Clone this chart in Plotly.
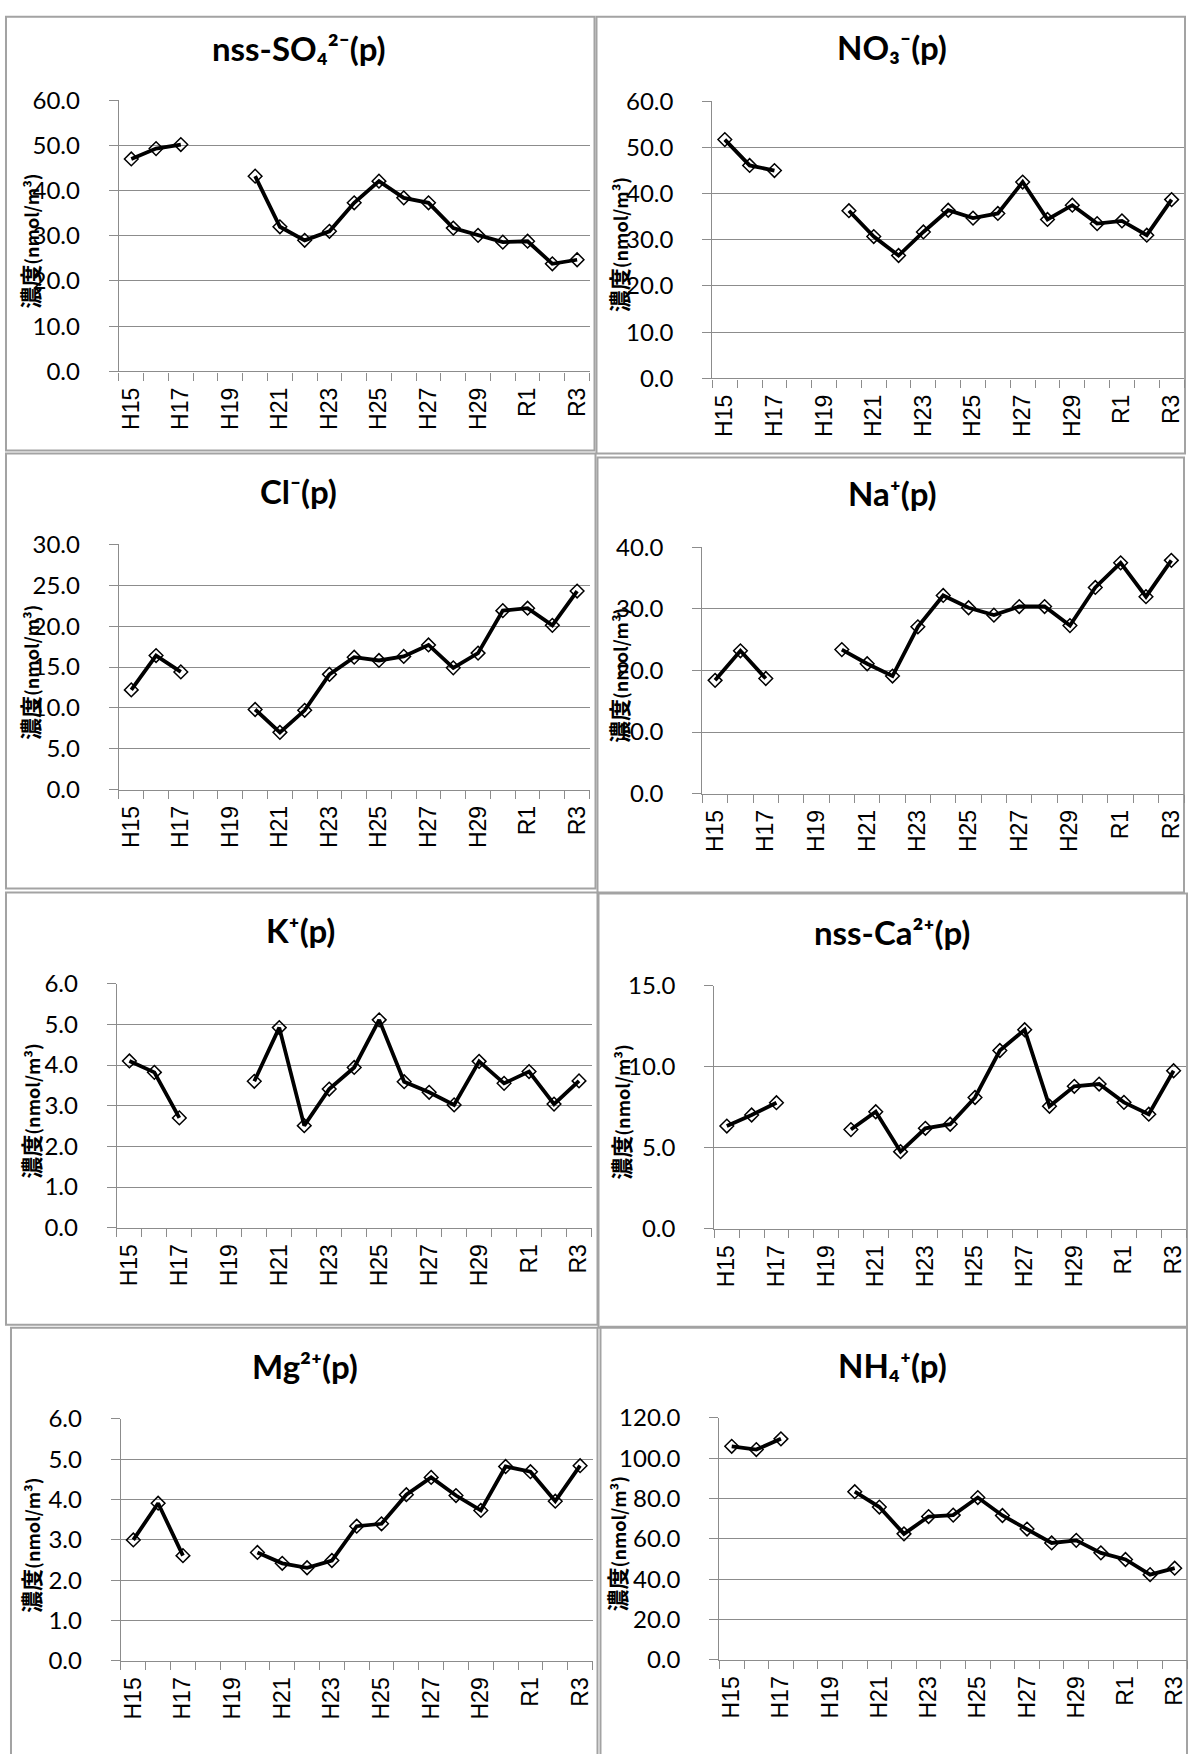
import plotly.graph_objects as go

# ---------------- data ----------------
categories = ["H15", "H16", "H17", "H18", "H19", "H20", "H21", "H22", "H23", "H24",
              "H25", "H26", "H27", "H28", "H29", "H30", "R1", "R2", "R3"]
labelled = ["H15", "H17", "H19", "H21", "H23", "H25", "H27", "H29", "R1", "R3"]

nss_so4 = [47.0, 49.3, 50.2, None, None, 43.2, 32.0, 29.0, 31.0, 37.3, 42.1, 38.4,
           37.3, 31.7, 30.1, 28.6, 28.8, 23.8, 24.7]
no3 = [51.7, 46.1, 45.0, None, None, 36.3, 30.7, 26.6, 31.7, 36.4, 34.7, 35.7,
       42.5, 34.4, 37.5, 33.5, 34.1, 31.0, 38.7]
cl = [12.2, 16.4, 14.4, None, None, 9.8, 7.0, 9.7, 14.1, 16.2, 15.8, 16.3,
      17.7, 14.9, 16.7, 21.9, 22.2, 20.1, 24.3]
na = [18.4, 23.2, 18.7, None, None, 23.4, 21.1, 19.1, 27.1, 32.2, 30.2, 29.0,
      30.4, 30.4, 27.3, 33.5, 37.5, 32.0, 37.9]
k = [4.10, 3.82, 2.70, None, None, 3.60, 4.92, 2.51, 3.41, 3.94, 5.11, 3.59,
     3.33, 3.02, 4.09, 3.55, 3.84, 3.04, 3.61]
nss_ca = [6.34, 7.02, 7.78, None, None, 6.12, 7.22, 4.76, 6.20, 6.45, 8.10, 11.00,
          12.28, 7.56, 8.79, 8.93, 7.80, 7.07, 9.75]
mg = [3.00, 3.91, 2.61, None, None, 2.69, 2.42, 2.31, 2.49, 3.34, 3.40, 4.12,
      4.55, 4.10, 3.73, 4.82, 4.69, 3.96, 4.84]
nh4 = [105.9, 104.3, 109.6, None, None, 83.4, 75.8, 62.5, 71.1, 71.8, 80.5, 71.6,
       64.9, 58.0, 59.3, 53.1, 49.8, 42.3, 45.5]

titles = ["nss-SO₄²⁻(p)", "NO₃⁻(p)", "Cl⁻(p)", "Na⁺(p)",
          "K⁺(p)", "nss-Ca²⁺(p)", "Mg²⁺(p)", "NH₄⁺(p)"]
series = [nss_so4, no3, cl, na, k, nss_ca, mg, nh4]
y_max = [60, 60, 30, 40, 6, 15, 6, 120]
y_step = [10, 10, 5, 10, 1, 5, 1, 20]
y_title = "<b>濃度<span style='font-size:18px'>(nmol/m³)</span></b>"

# category positions on the x scale (index of each category)
x_index = list(range(len(categories)))
label_index = [categories.index(c) for c in labelled]

# ---------------- layout geometry (pixels) ----------------
W, H = 1192, 1754
# plot areas: x0, x1, ytop, ybottom
plot_boxes = [
    (118, 589, 100, 371), (712, 1184, 101, 378),
    (118, 589, 544, 789), (702, 1184, 547, 793),
    (116, 591, 983, 1227), (714, 1186, 985, 1228),
    (120, 592, 1418, 1660), (719, 1187, 1417, 1659),
]
# panel borders: x0, y0, x1, y1
panel_boxes = [
    (5, 9, 594, 450), (596, 8, 1185, 453),
    (5, 453, 595, 888), (597, 457, 1184, 892),
    (5, 892, 597, 1324), (598, 893, 1187, 1327),
    (10, 1327, 597, 1790), (600, 1326, 1187, 1790),
]
title_pos = [(298, 48), (892, 47), (298, 491), (892, 493),
             (300, 929), (892, 931), (304, 1365), (892, 1364)]
ytitle_x = [28, 617, 28, 617, 29, 620, 29, 615]

GRID = "#8c8c8c"
# vertical correction for the page capture (observed offset/scale)
V_OFF, V_SC = 15.8, 0.983


def px(x):
    return x / W


def py(y):
    return min(1.0, 1 - ((y - V_OFF) / V_SC) / H)


fig = go.Figure()
annotations = []
shapes = []

for i, (vals, ttl) in enumerate(zip(series, titles)):
    n = i + 1
    xa = "x" if n == 1 else f"x{n}"
    ya = "y" if n == 1 else f"y{n}"
    fig.add_trace(go.Scatter(
        x=x_index, y=vals, xaxis=xa, yaxis=ya,
        mode="lines+markers", connectgaps=False,
        line=dict(color="black", width=3.8),
        marker=dict(symbol="diamond-open", size=10.5, color="black",
                    line=dict(width=1.5, color="black")),
        showlegend=False, hoverinfo="skip",
    ))
    x0, x1, yt, yb = plot_boxes[i]
    fig.layout[f"xaxis{'' if n == 1 else n}"] = dict(
        domain=[px(x0), px(x1)], anchor=ya,
        range=[-0.5, len(categories) - 0.5],
        tickmode="array", tickvals=label_index, ticktext=labelled,
        ticks="", showline=True, linecolor=GRID, linewidth=1.3,
        minor=dict(ticks="outside", tick0=-0.5, dtick=1, ticklen=8,
                   tickwidth=1.3, tickcolor=GRID, showgrid=False),
        showgrid=False, zeroline=False, tickangle=-90,
        tickfont=dict(family="Liberation Sans", size=23, color="black"),
        ticklabelstandoff=6, fixedrange=True,
    )
    fig.layout[f"yaxis{'' if n == 1 else n}"] = dict(
        domain=[py(yb), py(yt)], anchor=xa,
        range=[0, y_max[i]], dtick=y_step[i], tick0=0, tickformat=".1f",
        ticks="outside", ticklen=9, tickwidth=1.3, tickcolor=GRID,
        showline=True, linecolor=GRID, linewidth=1.3,
        showgrid=True, gridcolor=GRID, gridwidth=1.3, zeroline=False,
        tickfont=dict(family="Lato", size=24, color="black"),
        ticklabelstandoff=24, fixedrange=True,
    )
    tx, ty = title_pos[i]
    annotations.append(dict(
        text=f"<b>{ttl}</b>", x=px(tx), y=py(ty), xref="paper", yref="paper",
        xanchor="center", yanchor="middle", showarrow=False,
        font=dict(family="Lato, DejaVu Sans", size=33, color="black"),
    ))
    annotations.append(dict(
        text=y_title, x=px(ytitle_x[i]), y=py((yt + yb) / 2 + 5),
        xref="paper", yref="paper", xanchor="center", yanchor="middle",
        textangle=-90, showarrow=False,
        font=dict(family="Noto Sans CJK JP", size=22, color="black"),
    ))
    bx0, by0, bx1, by1 = panel_boxes[i]
    shapes.append(dict(
        type="rect", xref="paper", yref="paper",
        x0=px(bx0), x1=px(bx1), y0=py(by1), y1=min(py(by0), 0.9995),
        line=dict(color="#a3a3a3", width=2), fillcolor="rgba(0,0,0,0)",
        layer="below",
    ))

fig.update_layout(
    width=W, height=H, margin=dict(l=0, r=0, t=0, b=0),
    paper_bgcolor="white", plot_bgcolor="white",
    annotations=annotations, shapes=shapes,
)

post_js = (
    "document.body.style.margin='0';document.body.style.padding='0';"
    "var gd=document.getElementById('{plot_id}');"
    "gd.style.position='absolute';gd.style.left='0px';gd.style.top='0px';"
)
fig.write_html("out.html", config={"displayModeBar": False}, post_script=post_js)
